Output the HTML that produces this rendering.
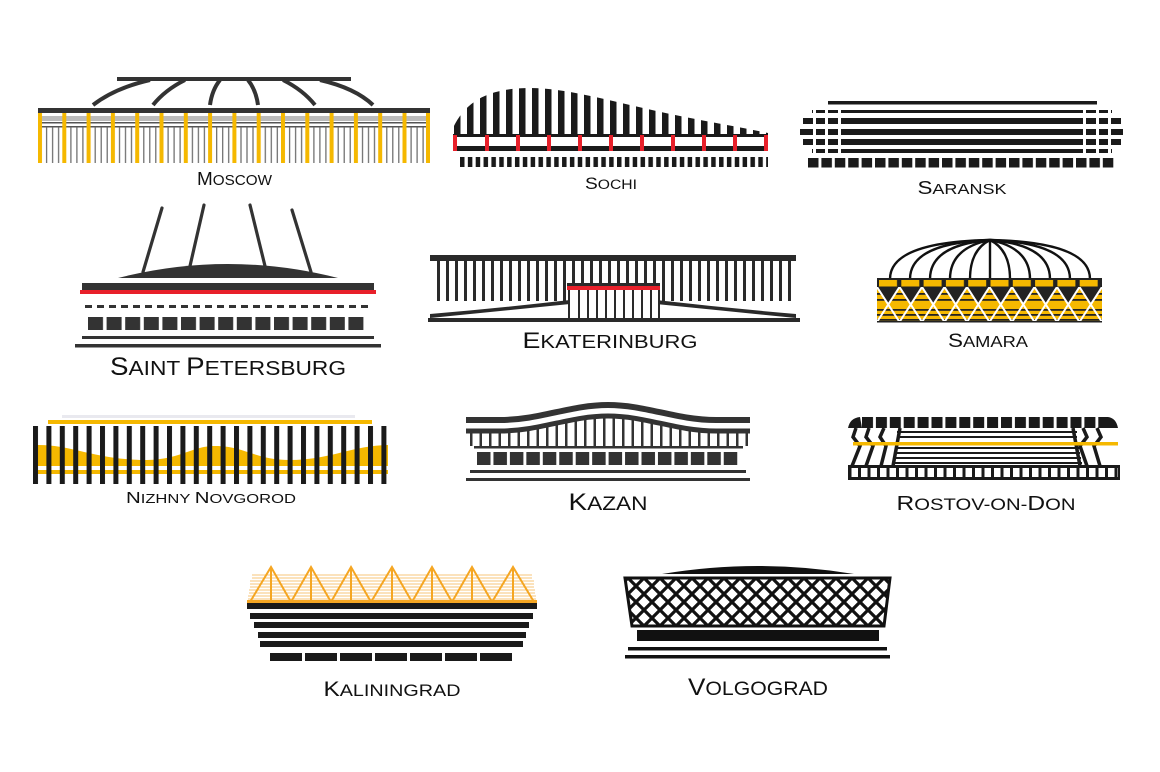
<!DOCTYPE html>
<html><head><meta charset="utf-8"><style>
html,body{margin:0;padding:0;background:#fff;}
svg{display:block;}
text{font-family:"Liberation Sans",sans-serif;fill:#111;}
</style></head><body>
<svg width="1160" height="772" viewBox="0 0 1160 772" xmlns="http://www.w3.org/2000/svg">
<defs>
<pattern id="mos" x="38" y="113" width="24.3" height="50" patternUnits="userSpaceOnUse">
<rect width="24.3" height="50" fill="#fff"/>
<rect x="0" y="3" width="24.3" height="5" fill="#bbb"/>
<rect x="0" y="9" width="24.3" height="1.5" fill="#555"/>
<rect x="0" y="13" width="24.3" height="1.5" fill="#555"/>
<rect x="8" y="14" width="1.2" height="36" fill="#666"/>
<rect x="14" y="14" width="1.2" height="36" fill="#666"/>
<rect x="20" y="14" width="1.2" height="36" fill="#666"/>
<rect x="0" y="0" width="4" height="50" fill="#f5b800"/>
</pattern>
<pattern id="soS" x="467" y="0" width="13" height="10" patternUnits="userSpaceOnUse"><rect width="6.5" height="10" fill="#1a1a1a"/></pattern>
<pattern id="soB" x="460" y="0" width="7.85" height="10" patternUnits="userSpaceOnUse"><rect width="4.5" height="10" fill="#1a1a1a"/></pattern>
<pattern id="saB" x="808" y="0" width="13.4" height="10" patternUnits="userSpaceOnUse"><rect width="10.5" height="10" fill="#1a1a1a"/></pattern>
<pattern id="spB" x="88" y="0" width="18.6" height="10" patternUnits="userSpaceOnUse"><rect width="15" height="10" fill="#333"/></pattern>
<pattern id="spD" x="85" y="0" width="12" height="10" patternUnits="userSpaceOnUse"><rect width="7" height="10" fill="#333"/></pattern>
<pattern id="ekV" x="437" y="0" width="9" height="10" patternUnits="userSpaceOnUse"><rect width="3" height="10" fill="#2a2a2a"/></pattern>
<pattern id="sam" x="877" y="287" width="22.5" height="35" patternUnits="userSpaceOnUse">
<rect width="22.5" height="35" fill="#f5b800"/>
<rect y="6" width="22.5" height="1.8" fill="#222"/>
<rect y="12" width="22.5" height="1.8" fill="#222"/>
<rect y="22" width="22.5" height="1.8" fill="#222"/>
<rect y="27" width="22.5" height="1.8" fill="#222"/>
<rect y="32" width="22.5" height="1.8" fill="#222"/>
<polygon points="0,0 22.5,0 11.25,17.5" fill="#222"/>
<path d="M0,0 L22.5,35 M22.5,0 L0,35" stroke="#fff" stroke-width="2"/>
</pattern>
<pattern id="samBlk" x="879" y="0" width="22.3" height="10" patternUnits="userSpaceOnUse"><rect width="18" height="10" fill="#f5b800"/></pattern>
<pattern id="niz" x="33" y="0" width="13.4" height="10" patternUnits="userSpaceOnUse"><rect width="5" height="10" fill="#1a1a1a"/></pattern>
<pattern id="kzV" x="470" y="0" width="9.5" height="10" patternUnits="userSpaceOnUse"><rect width="2.5" height="10" fill="#333"/></pattern>
<pattern id="kzB" x="477" y="0" width="16.45" height="10" patternUnits="userSpaceOnUse"><rect width="13.5" height="10" fill="#333"/></pattern>
<pattern id="roT" x="862" y="0" width="13.9" height="20" patternUnits="userSpaceOnUse"><rect width="11" height="20" fill="#1a1a1a"/></pattern>
<pattern id="roB" x="850" y="0" width="9.5" height="20" patternUnits="userSpaceOnUse"><rect x="1.5" y="0" width="6.5" height="20" fill="#fff"/></pattern>
<pattern id="kaB" x="270" y="0" width="35" height="10" patternUnits="userSpaceOnUse"><rect width="32" height="10" fill="#1a1a1a"/></pattern>
<pattern id="vol" x="628" y="578" width="16" height="16" patternUnits="userSpaceOnUse">
<rect width="16" height="16" fill="#fff"/>
<path d="M-4,-4 L20,20 M20,-4 L-4,20 M-4,12 L4,20 M12,-4 L20,4 M4,-4 L-4,4 M20,12 L12,20" stroke="#111" stroke-width="3.2"/>
</pattern>
<clipPath id="soClip"><path d="M453,136 L453,128 C466,100 490,88 530,88 C570,88 620,104 680,116 C720,124 745,128 768,133 L768,136 Z"/></clipPath>
<clipPath id="kzClip"><path d="M466,432 L500,432 C540,432 570,417 608,417 C646,417 676,432 716,432 L750,432 L750,446 L466,446 Z"/></clipPath>
<clipPath id="volClip"><polygon points="625,578 890,578 884,626 632,626"/></clipPath>
</defs>

<!-- MOSCOW -->
<rect x="117" y="77" width="234" height="4" fill="#333"/>
<g stroke="#333" stroke-width="4" fill="none">
<path d="M93,105 Q115,88 150,80"/><path d="M153,105 Q165,90 185,80"/><path d="M210,105 Q212,90 220,80"/>
<path d="M258,105 Q256,90 248,80"/><path d="M315,105 Q303,90 283,80"/><path d="M373,105 Q355,88 320,80"/>
</g>
<rect x="38" y="108" width="392" height="6" fill="#333"/>
<rect x="38" y="113" width="392" height="50" fill="url(#mos)"/>
<rect x="426" y="113" width="4" height="50" fill="#f5b800"/>
<text x="234.5" y="185" font-size="18" text-anchor="middle" textLength="75" lengthAdjust="spacingAndGlyphs">M<tspan font-size="14.5">OSCOW</tspan></text>

<!-- SOCHI -->
<rect x="453" y="80" width="315" height="58" fill="url(#soS)" clip-path="url(#soClip)"/>
<rect x="453" y="134" width="315" height="3" fill="#1a1a1a"/>
<rect x="453" y="146" width="315" height="5" fill="#1a1a1a"/>
<g fill="#e8202a">
<rect x="453" y="135" width="4" height="16"/><rect x="485" y="135" width="4" height="16"/><rect x="516" y="135" width="4" height="16"/><rect x="547" y="135" width="4" height="16"/><rect x="578" y="135" width="4" height="16"/><rect x="609" y="135" width="4" height="16"/><rect x="640" y="135" width="4" height="16"/><rect x="671" y="135" width="4" height="16"/><rect x="702" y="135" width="4" height="16"/><rect x="733" y="135" width="4" height="16"/><rect x="764" y="135" width="4" height="16"/>
</g>
<rect x="460" y="157" width="308" height="10" fill="url(#soB)"/>
<text x="611" y="189" font-size="16.5" text-anchor="middle" textLength="52" lengthAdjust="spacingAndGlyphs">S<tspan font-size="13.5">OCHI</tspan></text>

<!-- SARANSK -->
<rect x="828" y="101" width="269" height="3.5" fill="#1a1a1a"/>
<g fill="#1a1a1a">
<rect x="812" y="110" width="300" height="3"/>
<rect x="803" y="118" width="318" height="6"/>
<rect x="800" y="129" width="323" height="6"/>
<rect x="803" y="139" width="318" height="6"/>
<rect x="812" y="149" width="300" height="4"/>
</g>
<g fill="#fff">
<rect x="813" y="108" width="3" height="47"/><rect x="825" y="108" width="3" height="47"/><rect x="838" y="108" width="3" height="47"/>
<rect x="1083" y="108" width="3" height="47"/><rect x="1096" y="108" width="3" height="47"/><rect x="1108" y="108" width="3" height="47"/>
</g>
<rect x="808" y="158" width="308" height="9.5" fill="url(#saB)"/>
<text x="962" y="194" font-size="18" text-anchor="middle" textLength="89" lengthAdjust="spacingAndGlyphs">S<tspan font-size="14.5">ARANSK</tspan></text>

<!-- SAINT PETERSBURG -->
<g stroke="#333" stroke-width="3.2" stroke-linecap="round">
<line x1="143" y1="272" x2="162" y2="208"/><line x1="190" y1="266" x2="204" y2="205"/>
<line x1="265" y1="266" x2="250" y2="205"/><line x1="311" y1="272" x2="292" y2="210"/>
</g>
<path d="M118,278 Q228,250 338,278 Z" fill="#333"/>
<rect x="82" y="283" width="292" height="7" fill="#333"/>
<rect x="80" y="290" width="296" height="4" fill="#e8202a"/>
<rect x="85" y="305" width="288" height="3" fill="url(#spD)"/>
<rect x="88" y="317" width="279" height="13" fill="url(#spB)"/>
<rect x="82" y="336" width="292" height="3" fill="#333"/>
<rect x="75" y="344" width="306" height="3.5" fill="#333"/>
<text x="228" y="375" font-size="25" text-anchor="middle" textLength="236" lengthAdjust="spacingAndGlyphs">S<tspan font-size="20.5">AINT </tspan>P<tspan font-size="20.5">ETERSBURG</tspan></text>

<!-- EKATERINBURG -->
<rect x="430" y="255" width="366" height="6" fill="#2a2a2a"/>
<rect x="437" y="261" width="356" height="40" fill="url(#ekV)"/>
<path d="M430,318 L430,314 Q500,308 570,300 L570,304 Q500,311 430,318 Z" fill="#2a2a2a"/>
<path d="M796,318 L796,314 Q726,308 656,300 L656,304 Q726,311 796,318 Z" fill="#2a2a2a"/>
<rect x="569" y="288" width="90" height="32" fill="#fff" stroke="#2a2a2a" stroke-width="2"/>
<g fill="#2a2a2a"><rect x="578" y="290" width="2" height="30"/><rect x="587" y="290" width="2" height="30"/><rect x="596" y="290" width="2" height="30"/><rect x="605" y="290" width="2" height="30"/><rect x="614" y="290" width="2" height="30"/><rect x="623" y="290" width="2" height="30"/><rect x="632" y="290" width="2" height="30"/><rect x="641" y="290" width="2" height="30"/><rect x="650" y="290" width="2" height="30"/></g>
<rect x="567" y="283" width="93" height="3" fill="#2a2a2a"/>
<rect x="567" y="286" width="93" height="4" fill="#e8202a"/>
<rect x="428" y="318" width="372" height="4" fill="#2a2a2a"/>
<text x="610" y="348" font-size="22" text-anchor="middle" textLength="175" lengthAdjust="spacingAndGlyphs">E<tspan font-size="18">KATERINBURG</tspan></text>

<!-- SAMARA -->
<g stroke="#111" stroke-width="2.4" fill="none">
<path d="M990,240 Q890,242 890,279"/><path d="M990,240 Q910,243 910,279"/><path d="M990,240 Q930,245 930,279"/><path d="M990,240 Q950,248 950,279"/><path d="M990,240 Q970,250 970,279"/>
<path d="M990,240 L990,279"/>
<path d="M990,240 Q1010,250 1010,279"/><path d="M990,240 Q1030,248 1030,279"/><path d="M990,240 Q1050,245 1050,279"/><path d="M990,240 Q1070,243 1070,279"/><path d="M990,240 Q1090,242 1090,279"/>
</g>
<rect x="877" y="278" width="225" height="10" fill="#222"/>
<rect x="879" y="280" width="222" height="6.5" fill="url(#samBlk)"/>
<rect x="877" y="287" width="225" height="35" fill="url(#sam)"/>
<rect x="877" y="321" width="225" height="1.5" fill="#222"/>
<text x="988" y="347" font-size="19" text-anchor="middle" textLength="80" lengthAdjust="spacingAndGlyphs">S<tspan font-size="15.5">AMARA</tspan></text>

<!-- NIZHNY NOVGOROD -->
<rect x="62" y="415" width="293" height="3" fill="#e9e9ef"/>
<rect x="48" y="420" width="324" height="4" fill="#f5b800"/>
<path d="M35,445 C70,444 90,458 140,460 C180,461 190,446 215,446 C245,446 255,460 290,460 C330,460 350,446 388,445 L388,466 L35,466 Z" fill="#f5b800"/>
<rect x="35" y="470" width="353" height="4" fill="#f5b800"/>
<rect x="33" y="426" width="358" height="58" fill="url(#niz)"/>
<text x="211" y="503" font-size="16" text-anchor="middle" textLength="170" lengthAdjust="spacingAndGlyphs">N<tspan font-size="13">IZHNY </tspan>N<tspan font-size="13">OVGOROD</tspan></text>

<!-- KAZAN -->
<g stroke="#333" fill="none">
<path d="M466,420 L500,420 C540,420 570,405 608,405 C646,405 676,420 716,420 L750,420" stroke-width="6"/>
<path d="M466,431 L500,431 C540,431 570,416 608,416 C646,416 676,431 716,431 L750,431" stroke-width="5"/>
</g>
<rect x="470" y="410" width="280" height="37" fill="url(#kzV)" clip-path="url(#kzClip)"/>
<rect x="474" y="446" width="269" height="2.5" fill="#333"/>
<rect x="477" y="452" width="263" height="13" fill="url(#kzB)"/>
<rect x="470" y="470" width="276" height="3" fill="#333"/>
<rect x="466" y="478" width="284" height="3" fill="#333"/>
<text x="608" y="510" font-size="24" text-anchor="middle" textLength="79" lengthAdjust="spacingAndGlyphs">K<tspan font-size="19.5">AZAN</tspan></text>

<!-- ROSTOV -->
<rect x="862" y="417" width="246" height="11" fill="url(#roT)"/>
<path d="M848,428 Q850,418 860,417 L862,428 Z" fill="#1a1a1a"/>
<path d="M1108,417 Q1116,418 1118,428 L1108,428 Z" fill="#1a1a1a"/>
<g stroke="#1a1a1a" stroke-width="3.5" fill="none">
<polyline points="856,428 853,437 860,446 852,466"/>
<polyline points="869,428 866,437 873,446 866,466"/>
<polyline points="884,428 880,437 886,446 881,466"/>
<polyline points="1097,428 1101,437 1094,446 1100,466"/>
<polyline points="1083,428 1087,437 1080,446 1087,466"/>
<polyline points="900,428 893,466"/>
<polyline points="1073,428 1080,466"/>
</g>
<g fill="#1a1a1a">
<rect x="897" y="431" width="180" height="2"/><rect x="897" y="436" width="180" height="2"/>
<rect x="895" y="447" width="185" height="2"/><rect x="895" y="452" width="185" height="2"/>
<rect x="894" y="457" width="187" height="2"/><rect x="893" y="462" width="189" height="2"/>
</g>
<rect x="853" y="442" width="265" height="3.5" fill="#f5b800"/>
<rect x="848" y="465" width="272" height="15" fill="#1a1a1a"/>
<rect x="850" y="468" width="268" height="9" fill="url(#roB)"/>
<text x="986" y="510" font-size="20" text-anchor="middle" textLength="179" lengthAdjust="spacingAndGlyphs">R<tspan font-size="16.5">OSTOV-ON-</tspan>D<tspan font-size="16.5">ON</tspan></text>

<!-- KALININGRAD -->
<g stroke="#f7c67a" stroke-width="1">
<line x1="252" y1="575" x2="532" y2="575"/><line x1="252" y1="578" x2="532" y2="578"/><line x1="250" y1="581" x2="534" y2="581"/><line x1="250" y1="584" x2="534" y2="584"/><line x1="250" y1="587" x2="534" y2="587"/><line x1="249" y1="590" x2="535" y2="590"/><line x1="249" y1="593" x2="535" y2="593"/><line x1="248" y1="596" x2="536" y2="596"/><line x1="248" y1="599" x2="536" y2="599"/>
</g>
<g stroke="#f5a623" stroke-width="2" fill="none">
<polyline points="250,602 271,567 291,602 311,567 331,602 351,567 371,602 392,567 412,602 432,567 452,602 472,567 492,602 513,567 534,602"/>
<line x1="271" y1="567" x2="271" y2="602"/><line x1="311" y1="567" x2="311" y2="602"/><line x1="351" y1="567" x2="351" y2="602"/><line x1="392" y1="567" x2="392" y2="602"/><line x1="432" y1="567" x2="432" y2="602"/><line x1="472" y1="567" x2="472" y2="602"/><line x1="513" y1="567" x2="513" y2="602"/>
</g>
<rect x="247" y="600" width="290" height="3" fill="#f5a623"/>
<rect x="247" y="603" width="290" height="6" fill="#1a1a1a"/>
<rect x="250" y="613" width="283" height="6" fill="#1a1a1a"/>
<rect x="254" y="622" width="275" height="6" fill="#1a1a1a"/>
<rect x="258" y="632" width="268" height="6" fill="#1a1a1a"/>
<rect x="260" y="641" width="263" height="6" fill="#1a1a1a"/>
<rect x="270" y="653" width="245" height="8" fill="url(#kaB)"/>
<text x="392" y="696" font-size="21" text-anchor="middle" textLength="137" lengthAdjust="spacingAndGlyphs">K<tspan font-size="17">ALININGRAD</tspan></text>

<!-- VOLGOGRAD -->
<path d="M662,574 Q758,558 854,574 Z" fill="#111"/>
<rect x="620" y="575" width="275" height="55" fill="url(#vol)" clip-path="url(#volClip)"/>
<polygon points="625,578 890,578 884,626 632,626" fill="none" stroke="#111" stroke-width="3"/>
<rect x="637" y="630" width="242" height="11" fill="#111"/>
<rect x="628" y="647" width="259" height="3.5" fill="#111"/>
<rect x="625" y="655" width="265" height="3.5" fill="#111"/>
<text x="758" y="695" font-size="24" text-anchor="middle" textLength="140" lengthAdjust="spacingAndGlyphs">V<tspan font-size="19.5">OLGOGRAD</tspan></text>
</svg>
</body></html>
